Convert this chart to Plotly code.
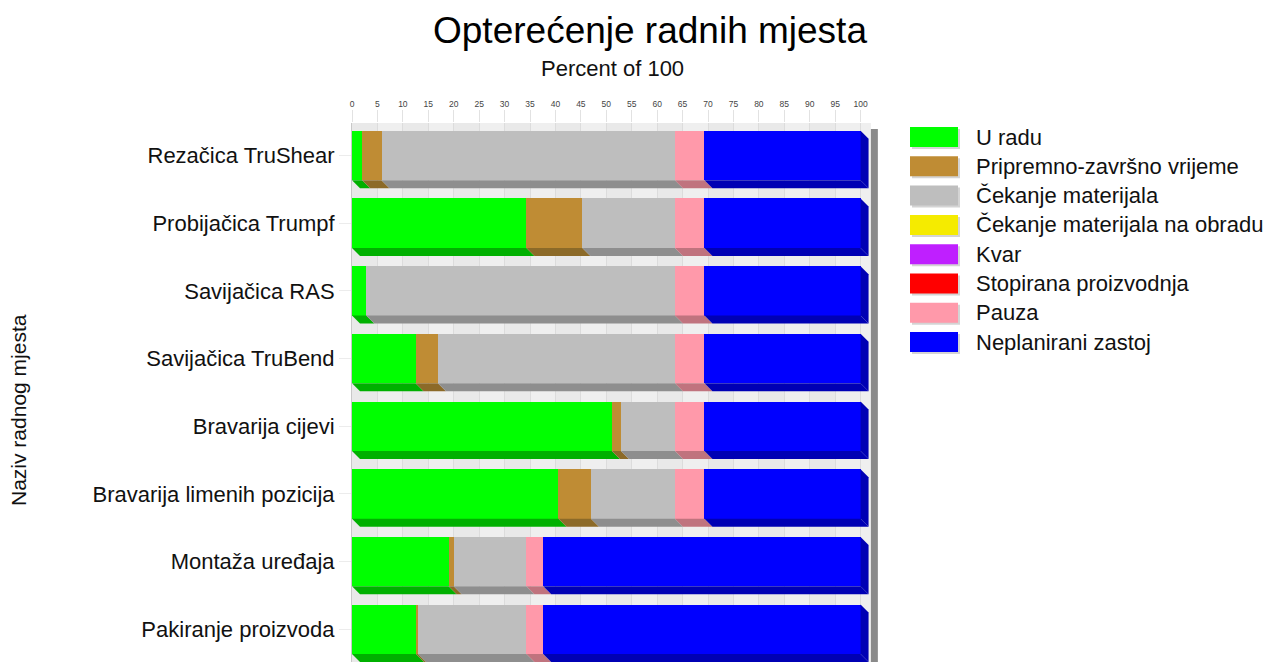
import plotly.graph_objects as go

# ---- data -------------------------------------------------------------
categories = [
    "Rezačica TruShear",
    "Probijačica Trumpf",
    "Savijačica RAS",
    "Savijačica TruBend",
    "Bravarija cijevi",
    "Bravarija limenih pozicija",
    "Montaža uređaja",
    "Pakiranje proizvoda",
]

u_radu = [2.0, 34.3, 2.8, 12.5, 51.1, 40.6, 19.0, 12.6]
pripremno_zavrsno = [3.8, 11.0, 0.0, 4.4, 1.8, 6.4, 1.0, 0.4]
cekanje_materijala = [57.7, 18.2, 60.7, 46.6, 10.6, 16.5, 14.3, 21.3]
cekanje_obrada = [0, 0, 0, 0, 0, 0, 0, 0]
kvar = [0, 0, 0, 0, 0, 0, 0, 0]
stopirana = [0, 0, 0, 0, 0, 0, 0, 0]
pauza = [5.8, 5.8, 5.8, 5.8, 5.8, 5.8, 3.3, 3.3]
neplanirani_zastoj = [30.7, 30.7, 30.7, 30.7, 30.7, 30.7, 62.4, 62.4]

series_names = [
    "U radu",
    "Pripremno-završno vrijeme",
    "Čekanje materijala",
    "Čekanje materijala na obradu",
    "Kvar",
    "Stopirana proizvodnja",
    "Pauza",
    "Neplanirani zastoj",
]
series_values = [
    u_radu, pripremno_zavrsno, cekanje_materijala, cekanje_obrada,
    kvar, stopirana, pauza, neplanirani_zastoj,
]
x_ticks = list(range(0, 101, 5))

# ---- styling ----------------------------------------------------------
face_colors = ["#00ff00", "#bf8c34", "#bebebe", "#f5eb00",
               "#bf1fff", "#ff0000", "#ff99aa", "#0000ff"]
side_colors = ["#00b000", "#8c6a28", "#8e8e8e", "#b0a800",
               "#8a16b8", "#b00000", "#c0737e", "#0000b4"]

FONT = "Liberation Sans, Arial, sans-serif"
W, H = 1270, 662
M_L, M_R, M_T, M_B = 352, 384, 123, 0
X_MAX = 105
Y_RANGE = [7.483, -0.48]
BAR_W = 0.73

plot_w = W - M_L - M_R
plot_h = H - M_T - M_B
px_x = X_MAX / plot_w                      # x units per pixel
px_y = (Y_RANGE[0] - Y_RANGE[1]) / plot_h  # y units per pixel
DX = 8 * px_x                              # depth of the 3D extrusion
DY = 8 * px_y


def paper_x(px):
    return (px - M_L) / plot_w


def paper_y(py):
    return (H - M_B - py) / plot_h


positions = list(range(len(categories)))

fig = go.Figure()
for name, vals, col in zip(series_names, series_values, face_colors):
    fig.add_trace(go.Bar(
        y=positions, x=vals, name=name, orientation="h", width=BAR_W,
        marker=dict(color=col, line=dict(width=0)), showlegend=False,
    ))

shapes = []
# back wall of the chart with light strips and dark right edge
shapes.append(dict(type="rect", xref="x", yref="y", layer="below",
                   x0=0, x1=102.03, y0=Y_RANGE[1], y1=Y_RANGE[0],
                   fillcolor="#efefef", line=dict(width=0)))
for i in range(0, 100, 10):
    shapes.append(dict(type="rect", xref="x", yref="y", layer="below",
                       x0=i, x1=i + 5, y0=Y_RANGE[1], y1=Y_RANGE[0],
                       fillcolor="#e9e9e9", line=dict(width=0)))
shapes.append(dict(type="rect", xref="x", yref="y", layer="above",
                   x0=102.03, x1=103.4, y0=Y_RANGE[1] + 6 * px_y, y1=Y_RANGE[0],
                   fillcolor="#8a8a8a", line=dict(width=0)))

# darker extruded faces under each segment, and on the right end of each bar
for row in positions:
    base = 0.0
    yb = row + BAR_W / 2
    yt = row - BAR_W / 2
    last_end, last_col = None, None
    for vals, scol in zip(series_values, side_colors):
        v = vals[row]
        if v <= 0:
            continue
        x0, x1 = base, base + v
        path = (f"M {x0},{yb} L {x1},{yb} L {x1 + DX},{yb + DY} "
                f"L {x0 + DX},{yb + DY} Z")
        shapes.append(dict(type="path", xref="x", yref="y", path=path,
                           fillcolor=scol, line=dict(width=0), layer="above"))
        base = x1
        last_end, last_col = x1, scol
    path = (f"M {last_end},{yt} L {last_end + DX},{yt + DY} "
            f"L {last_end + DX},{yb + DY} L {last_end},{yb} Z")
    shapes.append(dict(type="path", xref="x", yref="y", path=path,
                       fillcolor=last_col, line=dict(width=0), layer="above"))

annotations = [
    dict(text="Percent of 100", xref="paper", yref="paper",
         x=paper_x(612), y=paper_y(68), xanchor="center", yanchor="middle",
         showarrow=False, font=dict(family=FONT, size=22, color="#111")),
    dict(text="Naziv radnog mjesta", xref="paper", yref="paper",
         x=paper_x(18), y=paper_y(410), xanchor="center", yanchor="middle",
         textangle=-90, showarrow=False,
         font=dict(family=FONT, size=21, color="#111")),
]

# legend: colour swatches with labels
leg_y0, leg_step = 137, 29.3
for i, (name, col) in enumerate(zip(series_names, face_colors)):
    cy = leg_y0 + i * leg_step
    shapes.append(dict(type="rect", xref="paper", yref="paper",
                       x0=paper_x(912), x1=paper_x(960),
                       y0=paper_y(cy + 12), y1=paper_y(cy - 8),
                       fillcolor="#d4d4d4", line=dict(width=0)))
    shapes.append(dict(type="rect", xref="paper", yref="paper",
                       x0=paper_x(910), x1=paper_x(958),
                       y0=paper_y(cy + 10), y1=paper_y(cy - 10),
                       fillcolor=col, line=dict(width=0)))
    annotations.append(dict(text=name, xref="paper", yref="paper",
                            x=paper_x(974), y=paper_y(cy), xanchor="left",
                            yanchor="middle", showarrow=False,
                            font=dict(family=FONT, size=22, color="#111")))

fig.update_layout(
    width=W, height=H,
    margin=dict(l=M_L, r=M_R, t=M_T, b=M_B, pad=0),
    barmode="stack", bargap=0,
    paper_bgcolor="white", plot_bgcolor="white",
    showlegend=False,
    title=dict(text="Opterećenje radnih mjesta", x=650 / W, y=1 - 30 / H,
               xanchor="center", yanchor="middle",
               font=dict(family=FONT, size=37, color="#000")),
    font=dict(family=FONT, color="#111"),
    xaxis=dict(range=[0, X_MAX], side="top", tickvals=x_ticks,
               ticktext=[str(t) for t in x_ticks],
               showgrid=True, gridcolor="#dcdcdc", gridwidth=1,
               ticks="outside", ticklen=12, tickcolor="#e2e2e2",
               tickfont=dict(family=FONT, size=8.5, color="#444"),
               zeroline=False, showline=False, fixedrange=True),
    yaxis=dict(range=Y_RANGE, tickvals=positions, ticktext=categories,
               ticks="outside", ticklen=12, tickcolor="#ececec",
               tickfont=dict(family=FONT, size=22, color="#111"),
               showgrid=False, zeroline=False, showline=True,
               linecolor="#c8c8c8", linewidth=1, fixedrange=True),
    shapes=shapes,
    annotations=annotations,
)

fig.write_html("out.html")
